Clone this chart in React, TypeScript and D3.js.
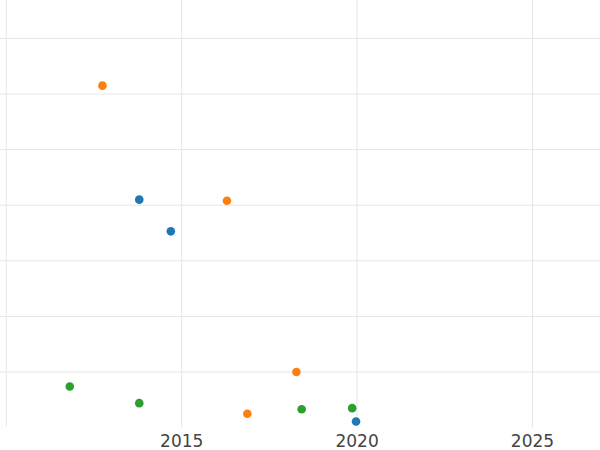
import React from "react";
import * as d3 from "d3";

const blueX = [2013.79, 2014.69, 2019.97];
const blueY = [41.0, 35.3, 1.1];
const orangeX = [2012.74, 2016.29, 2016.87, 2018.27];
const orangeY = [61.5, 40.8, 2.5, 10.0];
const greenX = [2011.81, 2013.79, 2018.42, 2019.86];
const greenY = [7.4, 4.4, 3.3, 3.5];

const xTicks = [2010, 2015, 2020, 2025];
const xTickLabels = ["", "2015", "2020", "2025"];
const yTicks = [10, 20, 30, 40, 50, 60, 70];

const series = [
  { name: "blue", xs: blueX, ys: blueY, color: "#1f77b4" },
  { name: "orange", xs: orangeX, ys: orangeY, color: "#ff7f0e" },
  { name: "green", xs: greenX, ys: greenY, color: "#2ca02c" },
];

export default function App() {
  const W = 600;
  const H = 450;
  const plotBottom = 427;
  const x = d3.scaleLinear().domain([2010, 2025]).range([6.3, 532.5]);
  const y = d3.scaleLinear().domain([0, 70]).range([427.6, 38.4]);

  return (
    <svg
      width={W}
      height={H}
      style={{ position: "fixed", left: 0, top: 0, background: "#fff" }}
    >
      <g>
        {yTicks.map((t) => (
          <line
            key={"h" + t}
            x1={0}
            x2={W}
            y1={y(t)}
            y2={y(t)}
            stroke="#e6e6e6"
            strokeWidth={1}
          />
        ))}
        {xTicks.map((t) => (
          <line
            key={"v" + t}
            x1={x(t)}
            x2={x(t)}
            y1={0}
            y2={plotBottom}
            stroke="#e6e6e6"
            strokeWidth={1}
          />
        ))}
      </g>
      <g>
        {series.map((s) =>
          s.xs.map((xv, i) => (
            <circle
              key={s.name + i}
              cx={x(xv)}
              cy={y(s.ys[i])}
              r={4.3}
              fill={s.color}
            />
          ))
        )}
      </g>
      <g>
        {xTicks.map((t, i) => (
          <text
            key={"l" + t}
            x={x(t)}
            y={447}
            textAnchor="middle"
            fontFamily="DejaVu Sans"
            fontSize={17}
            fill="#444"
          >
            {xTickLabels[i]}
          </text>
        ))}
      </g>
    </svg>
  );
}
